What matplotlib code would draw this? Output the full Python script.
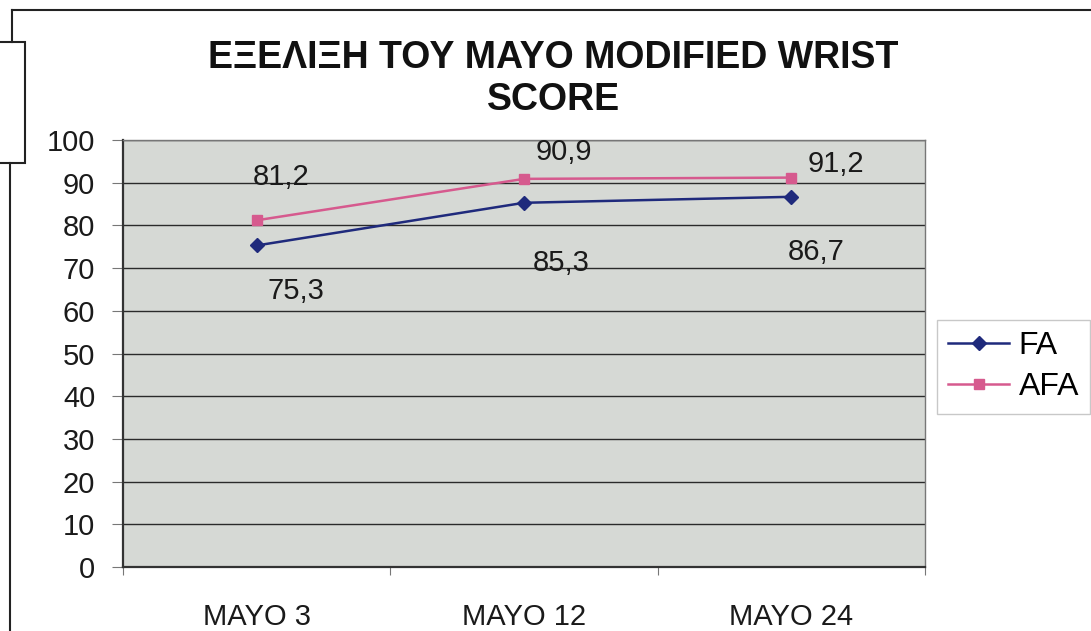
import matplotlib.pyplot as plt
from matplotlib.lines import Line2D
from matplotlib.patches import Rectangle

plt.rcParams['font.family'] = ['Liberation Sans', 'DejaVu Sans']

categories = ["MAYO 3", "MAYO 12", "MAYO 24"]
fa = [75.3, 85.3, 86.7]
afa = [81.2, 90.9, 91.2]
yticks = [0, 10, 20, 30, 40, 50, 60, 70, 80, 90, 100]

# label offsets in points (dx, dy) relative to each marker
fa_offsets = [(28, -33), (27, -43), (18, -40)]
afa_offsets = [(18, 31), (29, 19), (32, 10)]

fa_color = '#1f2a7c'
afa_color = '#d65a8e'
text_color = '#1a1a1a'
fs = 21

fig = plt.figure(figsize=(10.91, 6.31), dpi=100)
fig.patch.set_facecolor('white')
ax = fig.add_axes([0.1127, 0.1014, 0.8478 - 0.1127, 0.7781 - 0.1014])
ax.set_facecolor('#d6d9d5')

x = list(range(len(categories)))
ax.plot(x, fa, color=fa_color, lw=1.8, marker='D', ms=7, mfc=fa_color, mec=fa_color, zorder=4)
ax.plot(x, afa, color=afa_color, lw=1.8, marker='s', ms=7, mfc=afa_color, mec=afa_color, zorder=4)

def fmt(v):
    return f"{v:.1f}".replace('.', ',')

for xi, v, off in zip(x, fa, fa_offsets):
    ax.annotate(fmt(v), (xi, v), xytext=off, textcoords='offset points',
                ha='center', va='center', fontsize=fs, color=text_color, zorder=5)
for xi, v, off in zip(x, afa, afa_offsets):
    ax.annotate(fmt(v), (xi, v), xytext=off, textcoords='offset points',
                ha='center', va='center', fontsize=fs, color=text_color, zorder=5)

ax.set_xlim(-0.5, 2.5)
ax.set_ylim(0, 100)
ax.set_yticks(yticks)
ax.set_yticklabels([str(t) for t in yticks], fontsize=fs, color=text_color)
ax.yaxis.grid(True, color='#2a2a2a', lw=1.0)
ax.set_axisbelow(True)

ax.set_xticks([-0.5, 0.5, 1.5, 2.5])
ax.set_xticklabels([])
ax.set_xticks(x, minor=True)
ax.set_xticklabels(categories, minor=True, fontsize=fs, color=text_color)
ax.tick_params(axis='x', which='major', length=6, color='#777777')
ax.tick_params(axis='x', which='minor', length=0, pad=26)
ax.tick_params(axis='y', length=8, color='#777777', pad=12)

for side in ['left', 'bottom']:
    ax.spines[side].set_color('#333333')
    ax.spines[side].set_linewidth(1.6)
for side in ['top', 'right']:
    ax.spines[side].set_color('#777777')
    ax.spines[side].set_linewidth(1.0)

fig.text(0.507, 0.908, "ΕΞΕΛΙΞΗ ΤΟΥ MAYO MODIFIED WRIST", ha='center', va='center',
         fontsize=27, fontweight='bold', color='#111111')
fig.text(0.507, 0.842, "SCORE", ha='center', va='center',
         fontsize=27, fontweight='bold', color='#111111')

handles = [Line2D([], [], color=fa_color, lw=1.8, marker='D', ms=7),
           Line2D([], [], color=afa_color, lw=1.8, marker='s', ms=7)]
leg = fig.legend(handles, ["FA", "AFA"], loc='upper left',
                 bbox_to_anchor=(937 / 1091, 1 - 320 / 631), fontsize=23,
                 frameon=True, fancybox=False, handlelength=1.9,
                 handletextpad=0.3, borderpad=0.35, labelspacing=0.35,
                 borderaxespad=0)
leg.get_frame().set_edgecolor('#bbbbbb')
leg.get_frame().set_linewidth(1.0)

# outer chart frame
fig.add_artist(Line2D([12 / 1091, 1.0], [1 - 10 / 631, 1 - 10 / 631],
                      color='#222222', lw=1.5, transform=fig.transFigure))
fig.add_artist(Line2D([12 / 1091, 12 / 1091], [1 - 10 / 631, 1 - 42 / 631],
                      color='#222222', lw=1.5, transform=fig.transFigure))
fig.add_artist(Line2D([10 / 1091, 10 / 1091], [1 - 163 / 631, 0.0],
                      color='#222222', lw=1.5, transform=fig.transFigure))
fig.add_artist(Rectangle((-2 / 1091, 1 - 163 / 631), 27 / 1091, 121 / 631,
                         fill=False, edgecolor='#222222', lw=1.5,
                         transform=fig.transFigure))

fig.savefig('out.png', dpi=100)
